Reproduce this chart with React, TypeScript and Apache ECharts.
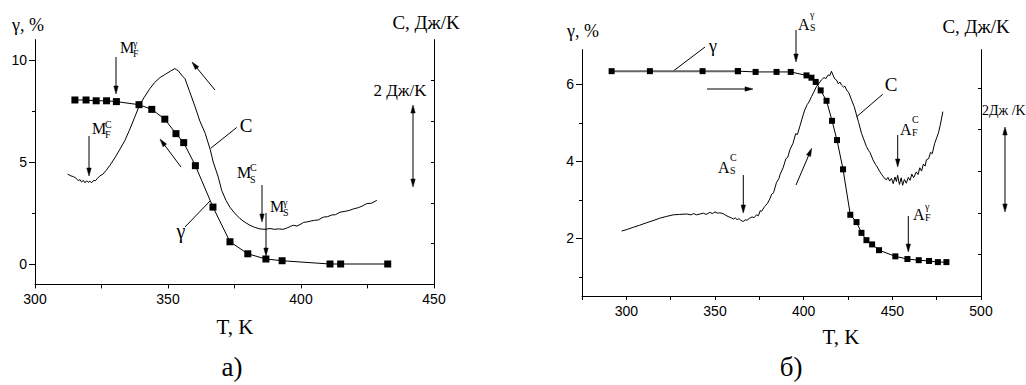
import React, { useEffect, useRef } from 'react';
import * as echarts from 'echarts';

const W = 1026;
const H = 385;
const SANS = 'Liberation Sans';
const SERIF = 'Liberation Serif';

// ---------- Panel a) ----------
const xTicksA = { min: 300, max: 450, step: 25 };
const tempGammaA = [315.0, 319.2, 323.0, 326.9, 330.6, 339.1, 343.9, 348.8, 353.0, 355.9, 360.3, 366.9, 373.3, 380.0, 386.8, 392.9, 410.9, 414.9, 432.6];
const gammaA = [8.04, 8.04, 8.0, 8.0, 7.96, 7.81, 7.58, 7.1, 6.39, 5.95, 4.82, 2.79, 1.09, 0.5, 0.245, 0.16, 0.0, 0.0, 0.0];
const tempHeatA = [312.3, 313.5, 314.5, 315.5, 316.3, 316.9, 317.5, 318.2, 318.8, 319.4, 320.0, 320.7, 321.3, 322.0, 322.7, 323.5, 324.4, 325.5, 326.8, 328.2, 330.0, 332.0, 333.8, 335.5, 337.5, 339.2, 341.0, 343.2, 345.0, 347.0, 349.0, 351.0, 352.6, 353.2, 353.8, 354.5, 355.5, 356.4, 358.0, 360.2, 362.0, 364.0, 365.8, 367.0, 368.9, 370.2, 371.8, 373.3, 375.0, 377.1, 379.0, 380.8, 382.5, 384.6, 386.5, 388.3, 390.0, 391.5, 393.3, 395.0, 396.0, 397.1, 398.5, 400.0, 401.0, 402.1, 403.5, 405.0, 406.5, 408.4, 410.0, 411.5, 413.0, 414.7, 416.5, 418.0, 419.7, 421.5, 423.0, 424.7, 426.5, 428.5];
const heatA = [2.70, 2.66, 2.64, 2.60, 2.54, 2.57, 2.51, 2.55, 2.49, 2.54, 2.50, 2.53, 2.49, 2.55, 2.54, 2.60, 2.66, 2.70, 2.80, 2.92, 3.10, 3.32, 3.53, 3.78, 4.10, 4.38, 4.58, 4.80, 4.95, 5.07, 5.15, 5.23, 5.29, 5.26, 5.24, 5.18, 5.10, 5.04, 4.75, 4.35, 4.00, 3.70, 3.32, 3.00, 2.63, 2.30, 2.06, 1.89, 1.75, 1.61, 1.52, 1.45, 1.40, 1.36, 1.35, 1.37, 1.35, 1.36, 1.35, 1.39, 1.42, 1.45, 1.43, 1.48, 1.52, 1.53, 1.55, 1.57, 1.58, 1.65, 1.66, 1.70, 1.71, 1.77, 1.79, 1.81, 1.85, 1.88, 1.92, 1.98, 1.99, 2.06];
const gammaAxisA = { min: -1, max: 11 };
const gammaLabelsA = [0, 5, 10];
const gammaMinorA = [2.5, 7.5];
const heatAxisA = { min: 0, max: 6 };
const heatTicksA = [1, 2, 3, 4, 5];

// ---------- Panel б) ----------
const xTicksB = { min: 275, max: 500, step: 25 };
const tempGammaB = [291.7, 313.3, 343.0, 362.9, 372.9, 384.7, 392.7, 401.6, 404.4, 406.8, 409.6, 412.9, 416.0, 418.8, 422.2, 426.3, 429.8, 432.6, 435.4, 438.6, 442.5, 451.7, 458.5, 464.9, 470.7, 475.7, 480.5];
const gammaB = [6.34, 6.34, 6.34, 6.34, 6.32, 6.32, 6.32, 6.23, 6.17, 6.06, 5.84, 5.57, 5.05, 4.55, 3.79, 2.61, 2.42, 2.14, 1.95, 1.84, 1.69, 1.53, 1.46, 1.43, 1.41, 1.38, 1.38];
const tempHeatB = [297.4, 300.5, 303.9, 307.5, 311.4, 315.0, 318.9, 322.5, 326.4, 330.0, 334.0, 336.5, 338.0, 339.5, 341.5, 343.5, 345.0, 347.1, 348.5, 350.0, 351.5, 352.7, 354.5, 356.0, 357.4, 359.0, 360.5, 361.5, 362.5, 363.5, 364.5, 365.9, 367.0, 368.0, 369.6, 371.0, 372.0, 373.4, 374.5, 375.5, 376.2, 378.0, 379.5, 380.9, 382.0, 383.0, 384.7, 386.0, 386.7, 388.4, 390.0, 391.0, 392.2, 394.0, 395.5, 396.5, 397.8, 399.0, 400.6, 402.0, 403.0, 404.4, 405.5, 407.2, 408.5, 410.0, 411.5, 412.5, 413.8, 414.8, 415.7, 416.5, 417.5, 418.5, 419.5, 420.5, 421.3, 422.5, 423.3, 424.2, 425.5, 427.0, 428.5, 429.8, 431.0, 432.6, 434.0, 435.4, 436.5, 437.5, 439.1, 440.5, 441.5, 442.9, 444.0, 445.0, 446.0, 446.6, 447.5, 448.5, 449.5, 450.5, 451.5, 452.3, 453.0, 454.0, 455.0, 455.8, 456.8, 457.9, 459.0, 460.0, 461.0, 462.0, 463.5, 464.5, 465.5, 466.5, 467.5, 468.5, 469.2, 470.5, 471.5, 472.5, 473.9, 475.0, 476.0, 477.0, 477.6, 478.5];
const heatB = [1.56, 1.60, 1.65, 1.70, 1.76, 1.81, 1.87, 1.91, 1.95, 1.96, 1.97, 1.95, 1.98, 1.95, 1.97, 1.99, 1.96, 2.01, 1.98, 2.02, 1.99, 2.00, 1.98, 1.94, 1.91, 1.88, 1.85, 1.88, 1.83, 1.86, 1.82, 1.79, 1.83, 1.82, 1.87, 1.90, 1.88, 1.95, 1.93, 2.05, 2.03, 2.15, 2.22, 2.33, 2.45, 2.48, 2.73, 2.82, 2.92, 3.08, 3.30, 3.33, 3.51, 3.67, 3.90, 3.88, 4.07, 4.25, 4.47, 4.60, 4.66, 4.79, 4.88, 5.03, 5.10, 5.19, 5.25, 5.22, 5.31, 5.30, 5.40, 5.31, 5.22, 5.19, 5.10, 5.14, 5.07, 5.02, 5.04, 4.95, 4.88, 4.71, 4.55, 4.35, 4.17, 3.91, 3.75, 3.59, 3.50, 3.44, 3.27, 3.16, 3.10, 2.99, 2.92, 2.86, 2.81, 2.79, 2.85, 2.76, 2.83, 2.70, 2.86, 2.75, 2.90, 2.68, 2.84, 2.66, 2.80, 2.71, 2.85, 2.78, 2.93, 2.84, 2.98, 2.92, 3.08, 3.00, 3.17, 3.12, 3.27, 3.30, 3.45, 3.42, 3.67, 3.80, 3.92, 4.10, 4.23, 4.43];
const gammaAxisB = { min: 0.5, max: 6.9 };
const gammaLabelsB = [2, 4, 6];
const gammaMinorB = [1, 3, 5];
const heatAxisB = { min: 0, max: 5.92 };
const heatTicksB = [1, 2, 3, 4, 5];

const zip = (xs: number[], ys: number[]) => xs.map((x, i) => [x, ys[i]]);

// ---------- helpers ----------
function txt(x: number, y: number, text: string, size: number, align = 'center', family = SERIF): any {
  return {
    type: 'text', x, y, silent: true,
    style: { text, fontFamily: family, fontSize: size, fill: '#000', textAlign: align, textVerticalAlign: 'middle', align, verticalAlign: 'middle' },
  };
}

function subsup(x: number, y: number, main: string, sup: string, sub: string, mainSize: number, mainW: number, supDy: number, subDy: number): any[] {
  return [
    txt(x, y, main, mainSize, 'left'),
    txt(x + mainW, y + supDy, sup, 10, 'left'),
    txt(x + mainW, y + subDy, sub, 10, 'left'),
  ];
}

function head(x1: number, y1: number, x2: number, y2: number, color: string): any {
  const dx = x2 - x1, dy = y2 - y1;
  const len = Math.sqrt(dx * dx + dy * dy);
  const ux = dx / len, uy = dy / len;
  const L = 8, w = 2.2;
  const bx = x2 - ux * L, by = y2 - uy * L;
  return {
    type: 'polygon', silent: true,
    shape: { points: [[x2, y2], [bx - uy * w, by + ux * w], [bx + uy * w, by - ux * w]] },
    style: { fill: color, stroke: color, lineWidth: 0.5 },
  };
}

function seg(x1: number, y1: number, x2: number, y2: number, color = '#000', width = 1): any {
  return { type: 'line', silent: true, shape: { x1, y1, x2, y2 }, style: { stroke: color, lineWidth: width } };
}

function arrow(x1: number, y1: number, x2: number, y2: number, color = '#000', width = 1): any[] {
  const dx = x2 - x1, dy = y2 - y1;
  const len = Math.sqrt(dx * dx + dy * dy);
  const bx = x2 - (dx / len) * 6, by = y2 - (dy / len) * 6;
  return [seg(x1, y1, bx, by, color, width), head(x1, y1, x2, y2, '#000')];
}

function dblArrow(x: number, y1: number, y2: number): any[] {
  return [seg(x, y1 + 6, x, y2 - 6), head(x, y2, x, y1, '#000'), head(x, y1, x, y2, '#000')];
}

const axisLineStyle = { color: '#000', width: 1 };
const labelStyle = { color: '#000', fontFamily: SANS, fontSize: 14 };

function xAxisCfg(grid: number, r: { min: number; max: number; step: number }): any {
  return {
    type: 'value', gridIndex: grid, min: r.min, max: r.max, interval: r.step,
    axisLine: { show: true, onZero: false, lineStyle: axisLineStyle },
    axisTick: { show: true, length: 4, lineStyle: axisLineStyle },
    axisLabel: { ...labelStyle, margin: 8, formatter: (v: number) => (v % 50 === 0 ? String(v) : '') },
    splitLine: { show: false },
  };
}

function yMajor(grid: number, r: { min: number; max: number }, labels: number[]): any {
  return {
    type: 'value', gridIndex: grid, position: 'left', min: r.min, max: r.max,
    axisLine: { show: true, onZero: false, lineStyle: axisLineStyle },
    axisTick: { show: true, length: 6, lineStyle: axisLineStyle, customValues: labels },
    axisLabel: { ...labelStyle, margin: 8, customValues: labels },
    splitLine: { show: false },
  };
}

function yMinor(grid: number, r: { min: number; max: number }, ticks: number[]): any {
  return {
    type: 'value', gridIndex: grid, position: 'left', min: r.min, max: r.max,
    axisLine: { show: false, onZero: false },
    axisTick: { show: true, length: 3, lineStyle: axisLineStyle, customValues: ticks },
    axisLabel: { show: false, customValues: [] },
    splitLine: { show: false },
  };
}

function yRight(grid: number, r: { min: number; max: number }, ticks: number[]): any {
  return {
    type: 'value', gridIndex: grid, position: 'right', min: r.min, max: r.max,
    axisLine: { show: true, onZero: false, lineStyle: axisLineStyle },
    axisTick: { show: true, inside: true, length: 3, lineStyle: axisLineStyle, customValues: ticks },
    axisLabel: { show: false },
    splitLine: { show: false },
  };
}

const graphics: any[] = [
  // panel a
  txt(28, 25, 'γ, %', 18),
  txt(426, 22, 'C, Дж/K', 19),
  txt(400, 90, '2 Дж/K', 17),
  ...dblArrow(413, 105, 187),
  ...subsup(120, 47, 'M', 'γ', 'F', 16, 13, -4, 6),
  ...arrow(116, 57, 116, 94),
  ...subsup(92, 128, 'M', 'C', 'F', 16, 13, -4, 6),
  ...arrow(89, 136, 89, 176),
  ...arrow(215, 90, 192, 62),
  ...arrow(181, 167, 160, 139),
  txt(246, 125, 'C', 19),
  seg(236.7, 127.5, 210.7, 148.3),
  ...subsup(237, 172, 'M', 'C', 'S', 16, 13, -5, 7),
  ...arrow(262, 185, 262, 222),
  ...subsup(270, 206, 'M', 'γ', 'S', 16, 13, -4, 6),
  ...arrow(266, 213, 266, 256),
  txt(181, 231, 'γ', 20),
  seg(185, 227, 210, 201),
  txt(235, 327, 'T, K', 21),
  txt(232, 367, 'а)', 27),
  // panel b
  txt(583, 31, 'γ, %', 18),
  txt(976, 26, 'C, Дж/K', 19),
  txt(982, 110, '2Дж /K', 14, 'left'),
  ...dblArrow(1005, 127, 212),
  ...subsup(798, 24, 'A', 'γ', 'S', 16, 12, -10, 3),
  ...arrow(796, 30, 796, 62),
  txt(713, 46, 'γ', 18),
  seg(705, 47, 673.3, 71),
  ...arrow(707, 89, 753, 89, '#555', 1.6),
  txt(891, 84, 'C', 19),
  seg(882.7, 94.3, 856.7, 116.7),
  ...subsup(900, 129, 'A', 'C', 'F', 16, 12, -10, 3),
  ...arrow(897.7, 135, 897.7, 167),
  ...subsup(718, 167, 'A', 'C', 'S', 16, 12, -10, 3),
  ...arrow(743.3, 175, 743.3, 213),
  ...arrow(796, 185, 811.7, 148.3),
  ...subsup(913, 214, 'A', 'γ', 'F', 16, 12, -8, 3),
  ...arrow(908.3, 216, 908.3, 252),
  txt(841, 337, 'T, K', 21),
  txt(791, 367, 'б)', 27),
];

const gammaBPoints = zip(tempGammaB, gammaB);

const option: any = {
  animation: false,
  backgroundColor: '#fff',
  grid: [
    { left: 35, top: 39.6, width: 399, height: 244.8 },
    { left: 582, top: 49.6, width: 399, height: 246.4 },
  ],
  xAxis: [xAxisCfg(0, xTicksA), xAxisCfg(1, xTicksB)],
  yAxis: [
    yMajor(0, gammaAxisA, gammaLabelsA),
    yMinor(0, gammaAxisA, gammaMinorA),
    yRight(0, heatAxisA, heatTicksA),
    yMajor(1, gammaAxisB, gammaLabelsB),
    yMinor(1, gammaAxisB, gammaMinorB),
    yRight(1, heatAxisB, heatTicksB),
  ],
  series: [
    {
      type: 'line', xAxisIndex: 0, yAxisIndex: 2, data: zip(tempHeatA, heatA),
      symbol: 'none', lineStyle: { color: '#000', width: 1 }, z: 2,
    },
    {
      type: 'line', xAxisIndex: 0, yAxisIndex: 0, data: zip(tempGammaA, gammaA),
      symbol: 'rect', symbolSize: 7, showAllSymbol: true,
      lineStyle: { color: '#000', width: 1 }, itemStyle: { color: '#000' }, z: 3,
    },
    {
      type: 'line', xAxisIndex: 1, yAxisIndex: 5, data: zip(tempHeatB, heatB),
      symbol: 'none', lineStyle: { color: '#000', width: 1 }, z: 2,
    },
    {
      type: 'line', xAxisIndex: 1, yAxisIndex: 3, data: gammaBPoints.slice(0, 4),
      symbol: 'rect', symbolSize: 6, showAllSymbol: true,
      lineStyle: { color: '#666', width: 2 }, itemStyle: { color: '#000' }, z: 3,
    },
    {
      type: 'line', xAxisIndex: 1, yAxisIndex: 3, data: gammaBPoints.slice(3),
      symbol: 'rect', symbolSize: 6, showAllSymbol: true,
      lineStyle: { color: '#000', width: 1 }, itemStyle: { color: '#000' }, z: 4,
    },
  ],
  graphic: graphics,
};

export default function App() {
  const ref = useRef<HTMLDivElement>(null);
  useEffect(() => {
    document.body.style.margin = '0';
    const chart = echarts.init(ref.current as HTMLDivElement, null, { renderer: 'svg', width: W, height: H });
    chart.setOption(option);
    return () => chart.dispose();
  }, []);
  return <div ref={ref} style={{ width: W, height: H, background: '#fff' }} />;
}
